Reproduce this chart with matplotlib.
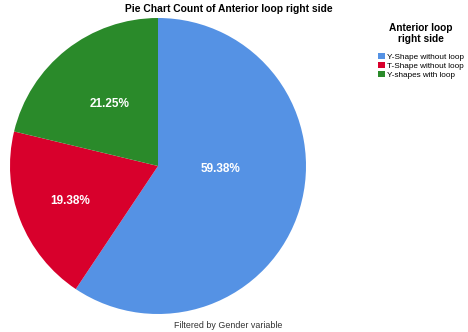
import matplotlib
matplotlib.use("Agg")
import matplotlib.pyplot as plt
from matplotlib.patches import Patch
import numpy as np

plt.rcParams['font.family'] = ['Liberation Sans', 'DejaVu Sans']

categories = ["Y-Shape without loop", "T-Shape without loop", "Y-shapes with loop"]
counts = [95, 31, 34]
colors = ["#5592E4", "#D8002C", "#2A8A2A"]
title = "Pie Chart Count of Anterior loop right side"
legend_title = "Anterior loop\nright side"
footnote = "Filtered by Gender variable"

W, H = 468, 332
fig = plt.figure(figsize=(W / 100, H / 100), dpi=100)
cx, cy, r = 158, 166, 148
ax = fig.add_axes([(cx - r) / W, (H - cy - r) / H, 2 * r / W, 2 * r / H])

wedges, texts, autotexts = ax.pie(
    counts, colors=colors, startangle=90, counterclock=False,
    autopct=lambda p: f"{p:.2f}%", pctdistance=0.6,
    wedgeprops=dict(linewidth=0),
    textprops=dict(color="white", fontsize=8.5, fontweight="bold"),
)
# label placement (style): radius fraction and angle offset per slice
label_r = [0.42, 0.64, 0.53]
label_dang = [14.0, 0.0, 0.0]
for w, t, lr, da in zip(wedges, autotexts, label_r, label_dang):
    ang = np.deg2rad((w.theta1 + w.theta2) / 2 + da)
    t.set_position((lr * np.cos(ang), lr * np.sin(ang)))
ax.set_aspect("equal")
ax.set_xlim(-1, 1)
ax.set_ylim(-1, 1)

fig.text(229 / W, 1 - 9 / H, title, ha="center", va="center",
         fontsize=7.4, fontweight="bold")
fig.text(228 / W, 1 - 325 / H, footnote, ha="center", va="center",
         fontsize=6.4, color="#333333")

handles = [Patch(facecolor=c, edgecolor="none") for c in colors]
leg = fig.legend(handles, categories, loc="upper left",
                 bbox_to_anchor=(376 / W, 1 - 21 / H), frameon=False,
                 fontsize=5.9, title=legend_title,
                 title_fontproperties=dict(size=7.3, weight="bold"),
                 handlelength=0.85, handleheight=0.85, handletextpad=0.35,
                 labelspacing=0.12, borderpad=0.2, borderaxespad=0)
leg.get_title().set_multialignment("center")
leg._legend_box.sep = 6

fig.savefig("out.png", dpi=100)
